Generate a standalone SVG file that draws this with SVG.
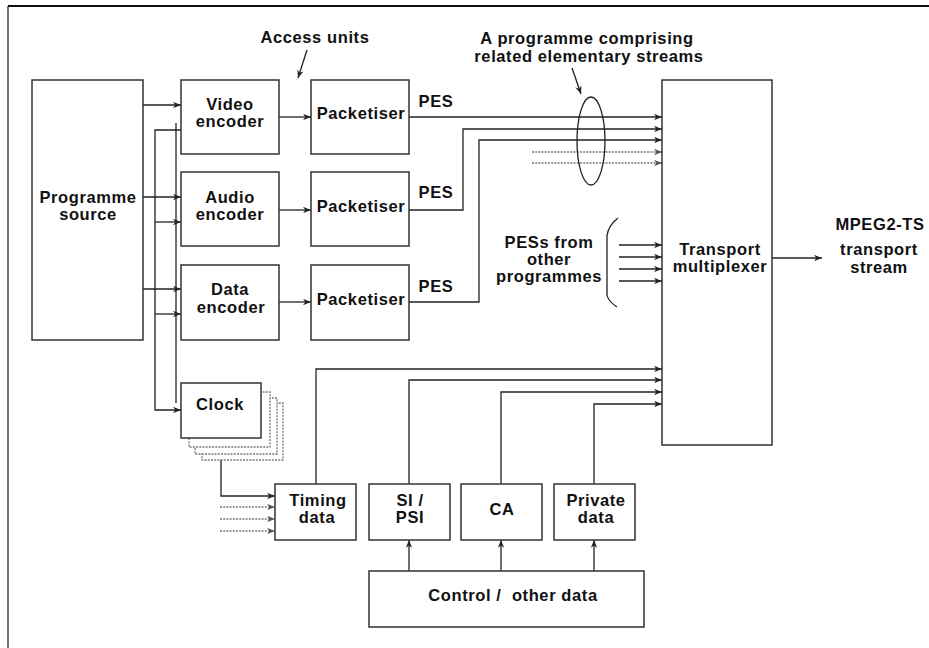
<svg xmlns="http://www.w3.org/2000/svg" width="929" height="648" viewBox="0 0 929 648">
<style>
.box{fill:#fff;stroke:#333;stroke-width:1.5}
.ln{fill:none;stroke:#222;stroke-width:1.3}
.dl{fill:none;stroke:#777;stroke-width:1.3;stroke-dasharray:2 1.2}
.sh{fill:#fff;stroke:#777;stroke-width:1.3;stroke-dasharray:2 1.2}
.t{font-family:"Liberation Sans",Arial,sans-serif;font-weight:bold;font-size:16.5px;letter-spacing:0.6px;fill:#111;text-anchor:middle}
</style>
<defs>
<marker id="ar" viewBox="0 0 10 8" refX="10" refY="4" markerWidth="8" markerHeight="6.4" markerUnits="userSpaceOnUse" orient="auto">
<path d="M0,0 L10,4 L0,8 L3,4 Z" fill="#222"/>
</marker>
<marker id="ag" viewBox="0 0 10 8" refX="10" refY="4" markerWidth="8" markerHeight="6.4" markerUnits="userSpaceOnUse" orient="auto">
<path d="M0,0 L10,4 L0,8 L3,4 Z" fill="#555"/>
</marker>
</defs>
<rect width="929" height="648" fill="#fff"/>
<g id="frame">
<line x1="8" y1="6" x2="929" y2="6" stroke="#111" stroke-width="2"/>
<line x1="8" y1="6" x2="8" y2="648" stroke="#222" stroke-width="1.3"/>
</g>

<g id="connectors">
<line class="ln" x1="143" y1="105" x2="181" y2="105" marker-end="url(#ar)"/>
<line class="ln" x1="143" y1="197" x2="181" y2="197" marker-end="url(#ar)"/>
<line class="ln" x1="143" y1="289" x2="181" y2="289" marker-end="url(#ar)"/>
<polyline class="ln" points="181,130 155,130 155,410 181,410" marker-end="url(#ar)"/>
<line class="ln" x1="176" y1="123" x2="176" y2="403"/>
<line class="ln" x1="155" y1="222" x2="181" y2="222" marker-end="url(#ar)"/>
<line class="ln" x1="155" y1="314" x2="181" y2="314" marker-end="url(#ar)"/>
<line class="ln" x1="279" y1="117" x2="311" y2="117" marker-end="url(#ar)"/>
<line class="ln" x1="279" y1="210" x2="311" y2="210" marker-end="url(#ar)"/>
<line class="ln" x1="279" y1="302" x2="311" y2="302" marker-end="url(#ar)"/>
<line class="ln" x1="409" y1="117" x2="662" y2="117" marker-end="url(#ar)"/>
<polyline class="ln" points="409,210 463,210 463,129 662,129" marker-end="url(#ar)"/>
<polyline class="ln" points="409,302 479,302 479,140 662,140" marker-end="url(#ar)"/>
<line class="dl" x1="532" y1="152" x2="662" y2="152" marker-end="url(#ag)"/>
<line class="dl" x1="532" y1="163" x2="662" y2="163" marker-end="url(#ag)"/>
<line class="ln" x1="619" y1="245" x2="662" y2="245" marker-end="url(#ar)"/>
<line class="ln" x1="619" y1="257" x2="662" y2="257" marker-end="url(#ar)"/>
<line class="ln" x1="619" y1="269" x2="662" y2="269" marker-end="url(#ar)"/>
<line class="ln" x1="619" y1="281" x2="662" y2="281" marker-end="url(#ar)"/>
<line class="ln" x1="772" y1="258" x2="822" y2="258" marker-end="url(#ar)"/>
<polyline class="ln" points="316,484 316,369 662,369" marker-end="url(#ar)"/>
<polyline class="ln" points="409,484 409,380 662,380" marker-end="url(#ar)"/>
<polyline class="ln" points="501,484 501,392 662,392" marker-end="url(#ar)"/>
<polyline class="ln" points="594,484 594,404 662,404" marker-end="url(#ar)"/>
<polyline class="ln" points="221,439 221,496 275,496" marker-end="url(#ar)"/>
<line class="dl" x1="220" y1="507" x2="275" y2="507" marker-end="url(#ag)"/>
<line class="dl" x1="220" y1="519" x2="275" y2="519" marker-end="url(#ag)"/>
<line class="dl" x1="220" y1="531" x2="275" y2="531" marker-end="url(#ag)"/>
<line class="ln" x1="409" y1="571" x2="409" y2="540" marker-end="url(#ar)"/>
<line class="ln" x1="501" y1="571" x2="501" y2="540" marker-end="url(#ar)"/>
<line class="ln" x1="594" y1="571" x2="594" y2="540" marker-end="url(#ar)"/>
<line class="ln" x1="307" y1="50" x2="298" y2="78" marker-end="url(#ar)"/>
<line class="ln" x1="572" y1="68" x2="581" y2="94" marker-end="url(#ar)"/>
<ellipse class="ln" cx="591" cy="141" rx="14" ry="44"/>
<path class="ln" d="M618,218 Q608,226 607,236 L607,295 Q608,301 617,307"/>
</g>

<g id="programme-source"><rect class="box" x="32" y="80" width="111" height="260"/>
<text class="t" x="88" y="203">Programme</text><text class="t" x="88" y="220">source</text></g>
<g id="video-encoder"><rect class="box" x="181" y="80" width="98" height="74"/>
<text class="t" x="230" y="110">Video</text><text class="t" x="230" y="127">encoder</text></g>
<g id="audio-encoder"><rect class="box" x="181" y="172" width="98" height="74"/>
<text class="t" x="230" y="203">Audio</text><text class="t" x="230" y="220">encoder</text></g>
<g id="data-encoder"><rect class="box" x="181" y="265" width="98" height="75"/>
<text class="t" x="230" y="295">Data</text><text class="t" x="231" y="313">encoder</text></g>
<g id="packetiser-1"><rect class="box" x="311" y="80" width="98" height="74"/>
<text class="t" x="361" y="119">Packetiser</text></g>
<g id="packetiser-2"><rect class="box" x="311" y="172" width="98" height="74"/>
<text class="t" x="361" y="212">Packetiser</text></g>
<g id="packetiser-3"><rect class="box" x="311" y="265" width="98" height="75"/>
<text class="t" x="361" y="305">Packetiser</text></g>
<g id="clock">
<rect class="sh" x="202" y="403" width="81" height="57"/>
<rect class="sh" x="195" y="398" width="82" height="56"/>
<rect class="sh" x="189" y="392" width="81" height="55"/>
<rect class="box" x="181" y="383" width="80" height="55"/>
<text class="t" x="220" y="410">Clock</text></g>
<g id="transport-multiplexer"><rect class="box" x="662" y="80" width="110" height="365"/>
<text class="t" x="720" y="255">Transport</text><text class="t" x="720" y="272">multiplexer</text></g>
<g id="timing-data"><rect class="box" x="275" y="484" width="81" height="56"/>
<text class="t" x="318" y="506">Timing</text><text class="t" x="317" y="523">data</text></g>
<g id="si-psi"><rect class="box" x="369" y="484" width="81" height="56"/>
<text class="t" x="410" y="506">SI /</text><text class="t" x="410" y="523">PSI</text></g>
<g id="ca"><rect class="box" x="461" y="484" width="81" height="56"/>
<text class="t" x="502" y="515">CA</text></g>
<g id="private-data"><rect class="box" x="554" y="484" width="81" height="56"/>
<text class="t" x="596" y="506">Private</text><text class="t" x="596" y="523">data</text></g>
<g id="control"><rect class="box" x="369" y="571" width="275" height="56"/>
<text class="t" x="513" y="601" xml:space="preserve">Control /  other data</text></g>

<g id="labels">
<text class="t" x="315" y="43">Access units</text>
<text class="t" x="587" y="44">A programme comprising</text>
<text class="t" x="589" y="62">related elementary streams</text>
<text class="t" x="436" y="107">PES</text>
<text class="t" x="436" y="198">PES</text>
<text class="t" x="436" y="292">PES</text>
<text class="t" x="549" y="248">PESs from</text>
<text class="t" x="549" y="265">other</text>
<text class="t" x="549" y="282">programmes</text>
<text class="t" x="880" y="230">MPEG2-TS</text>
<text class="t" x="879" y="255">transport</text>
<text class="t" x="879" y="273">stream</text>
</g>
</svg>
